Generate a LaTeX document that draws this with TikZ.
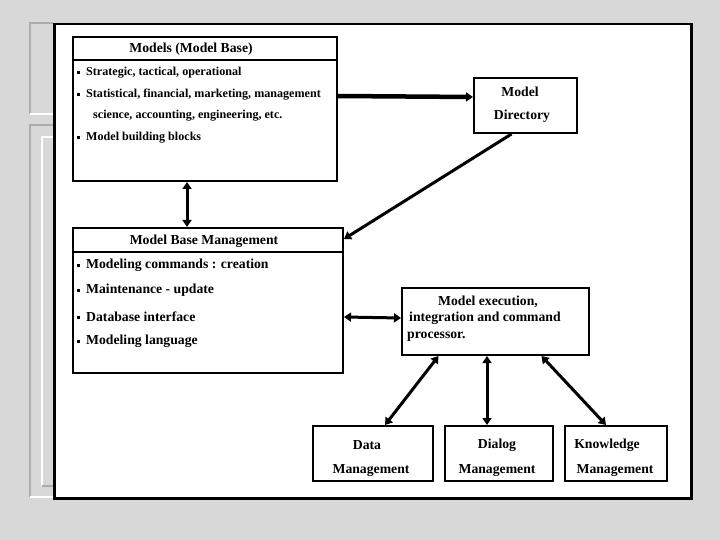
\documentclass[tikz,border=0pt]{standalone}
\usepackage{fontspec}
\setmainfont{Liberation Serif}
\usetikzlibrary{arrows.meta}
\definecolor{marble}{RGB}{216,216,216}
\definecolor{frameline}{RGB}{172,172,172}
\newcommand{\bul}{\rule[0.3ex]{3pt}{3pt}\hspace{6pt}}
\tikzset{
  box/.style={draw,line width=2pt,fill=white,inner sep=0pt,anchor=north west},
  big/.style={inner sep=0pt,yshift=-1.5pt,font=\fontsize{13.7}{16}\selectfont\bfseries},
  small/.style={inner sep=0pt,yshift=-1.5pt,anchor=west,font=\fontsize{12.1}{14}\selectfont\bfseries},
  item/.style={big,anchor=west},
  arr/.style={line width=3pt,-{Triangle[length=7pt,width=9pt]}},
  dbl/.style={line width=3pt,{Triangle[length=7pt,width=9pt]}-{Triangle[length=7pt,width=9pt]}}
}
\begin{document}
\begin{tikzpicture}[x=1pt,y=-1pt]
\useasboundingbox (0,0) rectangle (720,540);
\fill[marble] (0,0) rectangle (720,540);
% slide frames on the left
\draw[frameline,line width=2pt] (53,23) -- (30,23) -- (30,114);
\draw[white,line width=2pt] (30,114) -- (53,114);
\draw[frameline,line width=2pt] (53,125) -- (30,125) -- (30,497);
\draw[white,line width=2pt] (30,497) -- (53,497);
\draw[white,line width=2pt] (42,486) -- (42,137) -- (53,137);
\draw[frameline,line width=2pt] (42,486) -- (53,486);
% main panel
\node[box,line width=2.5pt,minimum width=637pt,minimum height=474pt] (panel) at (53,23) {};

% model base
\node[box,minimum width=264pt,minimum height=144pt] (models) at (72,36) {};
\draw[line width=2pt] ([yshift=-24pt]models.north west) -- ([yshift=-24pt]models.north east);
\node[big] (mtitle) at (191,48) {Models (Model Base)};
\node[small] (m1) at (77,71) {\bul Strategic, tactical, operational};
\node[small] (m2) at (77,93) {\bul Statistical, financial, marketing, management};
\node[small] (m3) at (93,114) {science, accounting, engineering, etc.};
\node[small] (m4) at (77,136) {\bul Model building blocks};

% model directory
\node[box,minimum width=103pt,minimum height=55pt] (dir) at (473,77) {};
\node[big] (d1) at (520,90) {Model};
\node[big] (d2) at (522,115) {Directory};

% model base management
\node[box,minimum width=270pt,minimum height=145pt] (mbm) at (72,227) {};
\draw[line width=2pt] ([yshift=-25pt]mbm.north west) -- ([yshift=-25pt]mbm.north east);
\node[big] (btitle) at (204,240) {Model Base Management};
\node[item] (b1) at (77,264) {\bul Modeling commands : creation};
\node[item] (b2) at (77,289) {\bul Maintenance - update};
\node[item] (b3) at (77,315) {\bul Database interface};
\node[item] (b4) at (77,340) {\bul Modeling language};

% execution
\node[box,minimum width=187pt,minimum height=67pt] (exec) at (401,287) {};
\node[big] (e1) at (488,300) {Model execution,};
\node[item] (e2) at (409,317) {integration and command};
\node[item] (e3) at (407,335) {processor.};

% bottom boxes
\node[box,minimum width=120pt,minimum height=55pt] (data) at (312,425) {};
\node[big] at (367,444) {Data};
\node[big] at (371,469) {Management};
\node[box,minimum width=108pt,minimum height=55pt] (dialog) at (444,425) {};
\node[big] at (497,444) {Dialog};
\node[big] at (497,469) {Management};
\node[box,minimum width=102pt,minimum height=55pt] (know) at (564,425) {};
\node[big] at (607,444) {Knowledge};
\node[big] at (615,469) {Management};

% connectors
\draw[arr,line width=4.5pt] (models.east |- 0,96) -- ([yshift=8.5pt]dir.west);
\draw[arr] ([xshift=-14pt]dir.south) -- ([yshift=-12pt]mbm.north east);
\draw[dbl] ([xshift=-18pt]models.south) -- ([xshift=-18pt]models.south |- mbm.north);
\draw[dbl] (mbm.east |- 0,317) -- ([yshift=3.5pt]exec.west);
\draw[dbl] ([xshift=-57pt]exec.south) -- ([xshift=12pt]data.north);
\draw[dbl] ([xshift=-12pt]dialog.north |- exec.south) -- ([xshift=-12pt]dialog.north);
\draw[dbl] ([xshift=46pt]exec.south) -- ([xshift=-10pt]know.north);
\end{tikzpicture}
\end{document}
